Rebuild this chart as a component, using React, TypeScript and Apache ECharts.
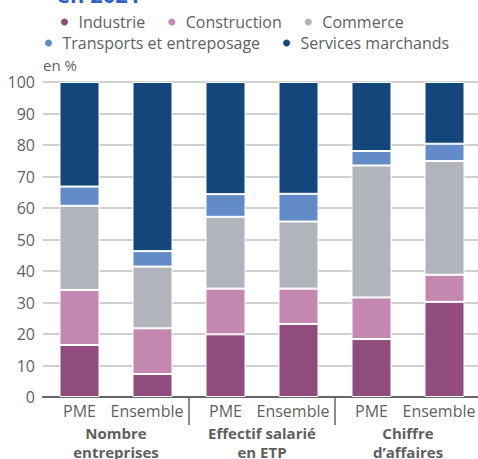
import React, { useEffect, useRef } from "react";
import * as echarts from "echarts";

const categories = ["PME", "Ensemble", "PME", "Ensemble", "PME", "Ensemble"];
const groupLabels = ["Nombre\nentreprises", "Effectif salarié\nen ETP", "Chiffre\nd’affaires"];
const seriesNames = ["Industrie", "Construction", "Commerce", "Transports et entreposage", "Services marchands"];
const industrie = [16.5, 7.3, 19.9, 23.2, 18.4, 30.2];
const construction = [17.5, 14.5, 14.5, 11.2, 13.2, 8.6];
const commerce = [26.7, 19.6, 22.8, 21.3, 41.9, 36.1];
const transports = [6.1, 4.9, 7.2, 8.8, 4.6, 5.5];
const services = [33.2, 53.7, 35.6, 35.5, 21.9, 19.6];
const seriesValues = [industrie, construction, commerce, transports, services];
const colors = ["#8f4c7c", "#c387b0", "#b1b5bb", "#638bc7", "#13477b"];

const FONT = "'Open Sans', 'Noto Sans', sans-serif";
const GRAY = "#5f5f5f";

const legendBase = {
  icon: "circle",
  itemWidth: 18,
  itemHeight: 9,
  itemGap: 21,
  textStyle: { fontFamily: FONT, fontSize: 16, color: GRAY },
};

export default function App() {
  const ref = useRef<HTMLDivElement>(null);
  useEffect(() => {
    if (!ref.current) return;
    const chart = echarts.init(ref.current, undefined, { renderer: "svg" });
    chart.setOption({
      animation: false,
      textStyle: { fontFamily: FONT },
      graphic: [
        {
          type: "text",
          left: 57,
          top: -17,
          style: { text: "en 2021", fontFamily: FONT, fontSize: 22, fontWeight: "bold", fill: "#2f63c0" },
        },
        {
          type: "text",
          left: 43,
          top: 57,
          style: { text: "en %", fontFamily: FONT, fontSize: 15, fill: GRAY },
        },
      ],
      legend: [
        { ...legendBase, data: seriesNames.slice(0, 3), top: 9, left: 54 },
        { ...legendBase, data: seriesNames.slice(3), top: 30, left: 38 },
      ],
      grid: { left: 43, top: 82, width: 438, height: 315, outerBoundsMode: "none", containLabel: false },
      xAxis: [
        {
          type: "category",
          data: categories,
          axisLine: { lineStyle: { color: "#666", width: 2 } },
          axisTick: {
            show: true,
            interval: (i: number) => i === 2 || i === 4,
            length: 28,
            lineStyle: { color: "#666", width: 1.5 },
          },
          axisLabel: {
            fontFamily: FONT,
            fontSize: 16,
            color: GRAY,
            margin: 6,
            interval: 0,
            formatter: (v: string) => (v === "Ensemble" ? "{e|" + v + "}" : v),
            rich: { e: { fontFamily: FONT, fontSize: 16, color: GRAY, padding: [0, 11, 0, 0] } },
          },
        },
        {
          type: "category",
          data: groupLabels,
          position: "bottom",
          offset: 22,
          axisLine: { show: false },
          axisTick: { show: false },
          axisLabel: {
            fontFamily: FONT,
            fontSize: 15,
            fontWeight: "bold",
            color: GRAY,
            lineHeight: 19,
            margin: 4,
            interval: 0,
          },
        },
      ],
      yAxis: {
        type: "value",
        min: 0,
        max: 100,
        interval: 10,
        axisLine: { show: false },
        axisTick: { show: false },
        axisLabel: { fontFamily: FONT, fontSize: 16, color: GRAY, margin: 8 },
        splitLine: { lineStyle: { color: "#d0d0d0", width: 2 } },
      },
      series: seriesNames.map((name, k) => ({
        name,
        type: "bar",
        stack: "total",
        xAxisIndex: 0,
        barWidth: 40,
        data: seriesValues[k],
        itemStyle: { color: colors[k], borderColor: "#ffffff", borderWidth: 1 },
      })),
    });
    return () => chart.dispose();
  }, []);
  return <div ref={ref} style={{ width: 478, height: 459, position: "absolute", left: 0, top: 0 }} />;
}
